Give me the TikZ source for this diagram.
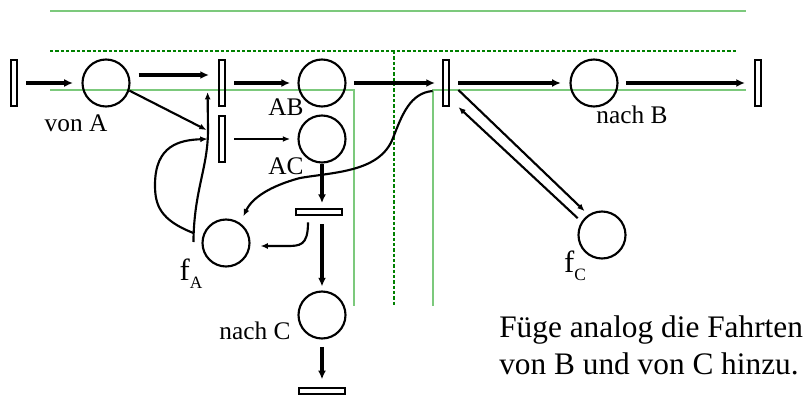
\documentclass[tikz,border=0pt]{standalone}
\usepackage{fontspec}
\setmainfont{Liberation Serif}
\usetikzlibrary{arrows.meta,calc}
\definecolor{railgreen}{RGB}{124,201,124}
\definecolor{zonegreen}{RGB}{0,128,0}

\begin{document}
\begin{tikzpicture}[x=0.75pt,y=-0.75pt,
  place/.style={circle,draw,line width=1.6pt,minimum size=35.25pt,inner sep=0pt},
  trans/.style={rectangle,draw,line width=1.6pt,minimum width=5pt,minimum height=34.5pt,inner sep=0pt},
  htrans/.style={rectangle,draw,line width=1.6pt,minimum width=34.5pt,minimum height=5pt,inner sep=0pt},
  flow/.style={-{Latex[length=6.5pt,width=6pt]},line width=2.5pt},
  thinflow/.style={-{Latex[length=5.5pt,width=4.5pt]},line width=1.6pt},
  lbl/.style={font=\fontsize{19}{22}\selectfont,anchor=base,inner sep=0pt},
  sublbl/.style={font=\fontsize{23}{26}\selectfont,anchor=base,inner sep=0pt}]
\useasboundingbox (0,0) rectangle (811,396);
\draw[railgreen,line width=1.6pt] (50,11) -- (746,11);
\draw[railgreen,line width=1.6pt] (50,90) -- (354,90) -- (354,306);
\draw[railgreen,line width=1.6pt] (746,90) -- (433,90) -- (433,306);
\draw[zonegreen,line width=0.8pt,dash pattern=on 2.5pt off 1.5pt] (50,51) -- (738,51);
\draw[zonegreen,line width=0.8pt,dash pattern=on 2.5pt off 1.5pt] (394,51) -- (394,306);
\node[trans] (t0) at (14,83) {};
\node[place] (vonA) at (106,83) {};
\node[trans] (t1) at (222,83) {};
\node[trans] (t2) at (222,139) {};
\node[place] (AB) at (322,83) {};
\node[place] (AC) at (322,139) {};
\node[trans] (t3) at (446,83) {};
\node[place] (nachB) at (594,83) {};
\node[trans] (t4) at (758,83) {};
\node[htrans] (t5) at (319,212) {};
\node[place] (nachC) at (322,315) {};
\node[htrans] (t6) at (322,391) {};
\node[place] (fA) at (226,243) {};
\node[place] (fC) at (602,235) {};
\node[lbl] (vonAlbl) at (76,131) {von A};
\node[lbl] (ABlbl) at (286,115) {AB};
\node[lbl] (AClbl) at (286,174) {AC};
\node[lbl] (nachBlbl) at (632,123) {nach B};
\node[lbl] (nachClbl) at (255,339) {nach C};
\node[sublbl] (fAlbl) at (191,280) {f\raisebox{-6pt}{\fontsize{13}{13}\selectfont A}};
\node[sublbl] (fClbl) at (575,272) {f\raisebox{-6pt}{\fontsize{13}{13}\selectfont C}};
\node[anchor=base west,align=left,inner sep=0pt,font=\fontsize{23.5}{27.75}\selectfont] (hint) at (499,374) {Füge analog die Fahrten\\von B und von C hinzu.};
\draw[flow,shorten <=6pt,shorten >=6.4pt] (t0) -- (vonA);
\draw[flow,shorten <=6pt,shorten >=6.5pt] ($(vonA.east)+(0,-8)$) -- ($(t1.west)+(0,-8)$);
\draw[thinflow] (vonA.-18) -- ($(t2.west)+(-11,-9)$);
\draw[flow,shorten <=6pt,shorten >=5.5pt] (t1) -- (AB);
\draw[thinflow,shorten <=6pt,shorten >=5.5pt] (t2) -- (AC);
\draw[flow,shorten <=5.5pt,shorten >=5pt] (AB) -- (t3);
\draw[flow,shorten <=6pt,shorten >=6.5pt] (t3) -- (nachB);
\draw[flow,shorten <=5.5pt,shorten >=6.5pt] (nachB) -- (t4);
\draw[thinflow,shorten >=3.75pt] ($(t3.east)+(8,7)$) -- (fC.124);
\draw[thinflow,shorten <=3.75pt] (fC.147) -- ($(t3.south east)+(8,0)$);
\draw[flow,shorten >=3.4pt] (AC.south) -- (AC.south |- t5.north);
\draw[flow,shorten <=6pt,shorten >=3pt] (nachC |- t5.south) -- (nachC.north);
\draw[flow,shorten <=5.5pt,shorten >=5.5pt] (nachC) -- (t6);
\draw[thinflow] ($(t5.south)+(-11,6)$) .. controls (308,246) and (300,246) .. (286,246) -- ($(fA.east)+(10,3)$);
\draw[thinflow] ($(t3.west)+(-9,8)$) .. controls (410,93) and (402,115) .. (393,138) .. controls (380,172) and (335,172) .. (300,178) .. controls (270,186) and (252,198) .. ($(fA.57)+(4,-6)$);
\draw[thinflow] ($(fA.west)+(-8,-1)$) .. controls (194,190) and (208,168) .. (208,130) -- ($(t1.south west)+(-10,-15)$);
\draw[thinflow] ($(fA.west)+(-8,-10)$) .. controls (160,220) and (155,205) .. (155,185) .. controls (155,145) and (180,140) .. ($(t2.west)+(-10,0)$);
\end{tikzpicture}
\end{document}
